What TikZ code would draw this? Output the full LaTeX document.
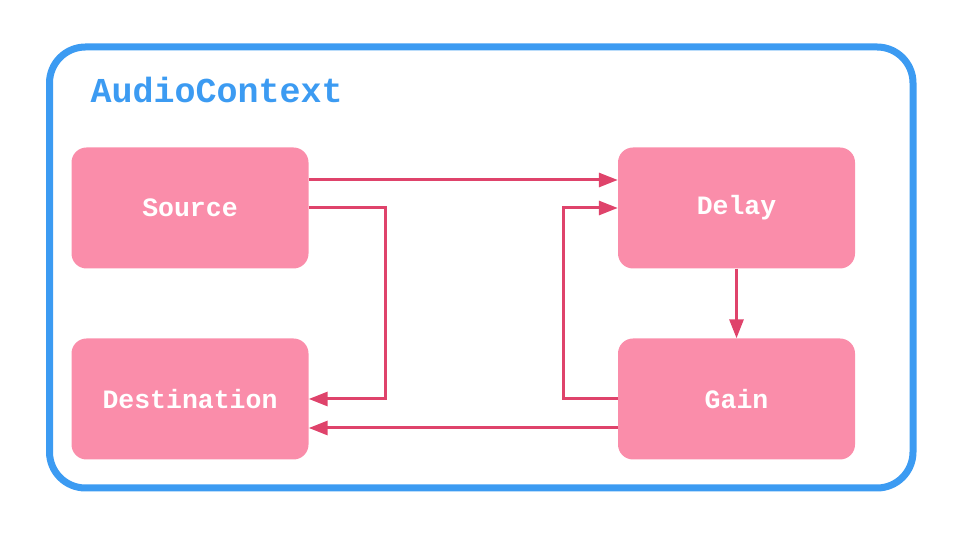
\documentclass[tikz,border=0pt]{standalone}
\usepackage{fontspec}
\setmonofont{Liberation Mono}
\usetikzlibrary{arrows.meta}
\definecolor{ctxblue}{HTML}{3C9BF2}
\definecolor{boxpink}{HTML}{FA8DAA}
\definecolor{linkred}{HTML}{DF436B}
\tikzset{
  audionode/.style={fill=boxpink, rounded corners=15pt, minimum width=237pt, minimum height=121pt, inner sep=0pt, text=white, font=\ttfamily\bfseries\fontsize{26.5}{28}\selectfont},
  link/.style={draw=linkred, line width=3pt, -{Triangle[length=19pt,width=14pt]}}
}
\begin{document}
\begin{tikzpicture}[x=1pt,y=1pt]
\useasboundingbox (0,0) rectangle (960,540);
\draw[ctxblue, line width=7pt, rounded corners=36pt] (49.5,52) rectangle (913,493);
\node[anchor=west, text=ctxblue, font=\ttfamily\bfseries\fontsize{35}{37}\selectfont] (ctx) at (87,450) {AudioContext};
\node[audionode] (src) at (190,332) {Source};
\node[audionode] (dst) at (190,141) {Destination};
\node[audionode] (dly) at (736.5,332) {Delay};
\node[audionode] (gain) at (736.5,141) {Gain};
\draw[link] ([yshift=28pt]src.east) -- ([yshift=28pt]dly.west);
\draw[link] (src.east) -| (385,240) |- (dst.east);
\draw[link] (gain.west) -| (563,240) |- (dly.west);
\draw[link] (dly.south) -- (gain.north);
\draw[link] ([yshift=-29pt]gain.west) -- ([yshift=-29pt]dst.east);
\end{tikzpicture}
\end{document}
